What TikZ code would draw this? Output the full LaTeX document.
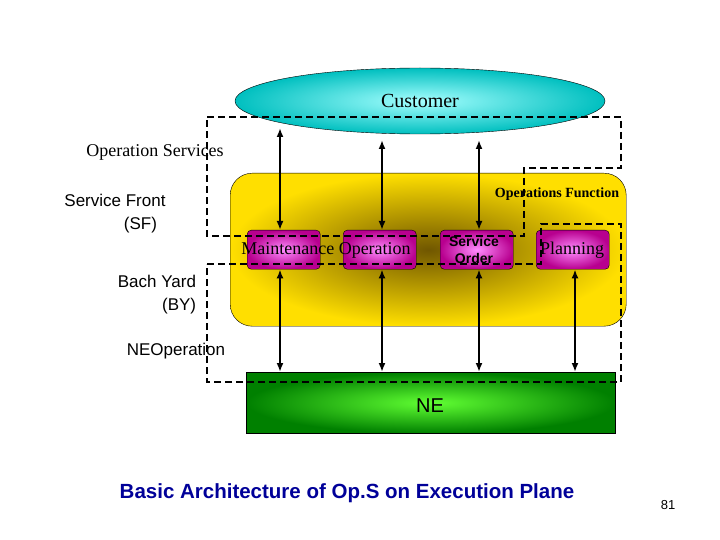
\documentclass[tikz,border=0pt]{standalone}
\usepackage{fontspec}
\setmainfont{Liberation Serif}
\newfontfamily\sans{Liberation Sans}
\usetikzlibrary{shapes.geometric,arrows.meta}
\begin{document}
\begin{tikzpicture}[x=1pt,y=-1pt,
  box/.style={draw,rounded corners=4pt,inner color=magenta!45!white,outer color=magenta!60!purple!80!black,minimum width=73pt,minimum height=39pt,anchor=north west},
  dashbox/.style={draw,line width=1.8pt,dash pattern=on 7pt off 4pt},
  arr/.style={line width=2.2pt,{Latex[length=9pt,width=7pt]}-{Latex[length=9pt,width=7pt]}},
  lbl/.style={font=\sans\fontsize{17}{23}\selectfont}]
\useasboundingbox (0,0) rectangle (720,540);
\fill[white] (0,0) rectangle (720,540);
\node[draw,rounded corners=22pt,inner color=black!70!yellow!80!orange,outer color=yellow!75!orange,minimum width=396pt,minimum height=153pt,anchor=north west] (of) at (230,173) {};
\node[draw,ellipse,inner color=cyan!35!white,outer color=cyan!50!teal,minimum width=370pt,minimum height=66pt,font=\fontsize{20}{22}\selectfont] (cu) at (420,101) {Customer};
\node[draw,inner color=green!70!lime!80!white,outer color=green!50!black,minimum width=369pt,minimum height=61pt,anchor=north west] (ne) at (246,372) {};
\node[font=\sans\fontsize{20}{22}\selectfont] at (430,406) {NE};
\node[box] (b1) at (247,230) {};
\node[box] (b2) at (343,230) {};
\node[box] (b3) at (440,230) {};
\node[box] (b4) at (536,230) {};
\node[font=\fontsize{18}{20}\selectfont] (mo) at (326,250) {Maintenance Operation};
\node[font=\sans\bfseries\fontsize{14}{17}\selectfont,align=center] (so) at (474,250) {Service\\Order};
\node[font=\fontsize{18}{20}\selectfont] (pl) at (572,250) {Planning};
\node[font=\bfseries\fontsize{14}{16}\selectfont] (opf) at (557,194) {Operations Function};
\draw[dashbox] (207,117) -- (621,117) -- (621,168) -- (524,168) -- (524,236) -- (207,236) -- cycle;
\draw[dashbox] (207,264) -- (541,264) -- (541,224) -- (621,224) -- (621,382) -- (207,382) -- cycle;
\coordinate (t1) at (280,128); \coordinate (t2) at (382,140); \coordinate (t3) at (479,140);
\draw[arr] (t1) -- (b1.north -| t1);
\draw[arr] (t2) -- (b2.north -| t2);
\draw[arr] (t3) -- (b3.north -| t3);
\draw[arr] (b1.south -| t1) -- (ne.north -| t1);
\draw[arr] (b2.south -| t2) -- (ne.north -| t2);
\draw[arr] (b3.south -| t3) -- (ne.north -| t3);
\coordinate (t4) at (575,0);
\draw[arr] (b4.south -| t4) -- (ne.north -| t4);
\node[font=\fontsize{18}{20}\selectfont] (os) at (155,152) {Operation Services};
\node[lbl,align=left] (sf) at (115,214) {Service Front\\\hspace*{3.5em}(SF)};
\node[lbl,align=left] (by) at (157,295) {Bach Yard\\\hspace*{2.6em}(BY)};
\node[lbl] (neo) at (176,351) {NEOperation};
\node[font=\sans\bfseries\fontsize{20.5}{24}\selectfont,text=blue!60!black] (ti) at (347,493) {Basic Architecture of Op.S on Execution Plane};
\node[font=\sans\fontsize{13}{15}\selectfont] (pg) at (668,505) {81};
\end{tikzpicture}
\end{document}
